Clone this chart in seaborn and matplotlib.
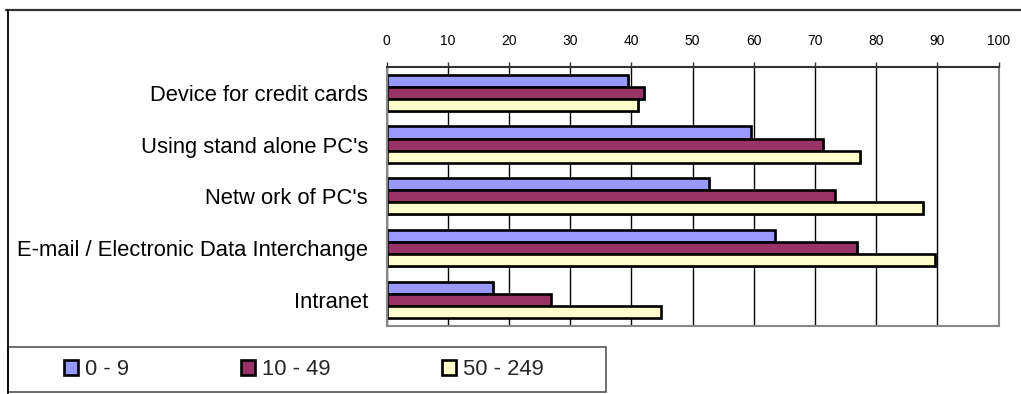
import matplotlib
matplotlib.use("Agg")
import matplotlib.pyplot as plt
import matplotlib.patheffects as pe
from matplotlib import font_manager
from matplotlib.lines import Line2D
from matplotlib.patches import Rectangle
import numpy as np
import pandas as pd
import seaborn as sns

# ---- data -------------------------------------------------------------
categories = [
    "Device for credit cards",
    "Using stand alone PC's",
    "Netw ork of PC's",
    "E-mail / Electronic Data Interchange",
    "Intranet",
]
size_classes = ["0 - 9", "10 - 49", "50 - 249"]
values_0_9 = [39.5, 59.5, 52.7, 63.5, 17.3]
values_10_49 = [42.1, 71.3, 73.2, 76.9, 26.8]
values_50_249 = [41.1, 77.4, 87.7, 89.6, 44.8]
x_ticks = [0, 10, 20, 30, 40, 50, 60, 70, 80, 90, 100]

colors = {"0 - 9": "#9999FF", "10 - 49": "#993366", "50 - 249": "#FFFFCC"}

df = pd.DataFrame({
    "category": categories * 3,
    "size": np.repeat(size_classes, len(categories)),
    "value": values_0_9 + values_10_49 + values_50_249,
})

# ---- style ------------------------------------------------------------
sns.set_style("white")
plt.rcParams["font.family"] = ["Liberation Sans", "DejaVu Sans"]


def pick_font(names):
    for n in names:
        try:
            font_manager.findfont(n, fallback_to_default=False)
            return n
        except Exception:
            continue
    return "Liberation Sans"


tick_font = pick_font(["Liberation Sans Narrow", "DejaVu Sans Condensed", "Liberation Sans"])

W, H = 1021, 394
fig = plt.figure(figsize=(W / 100, H / 100), dpi=100)
ax = fig.add_axes([386.7 / W, 1 - 325.5 / H, (998.5 - 386.7) / W, (325.5 - 67) / H])

sns.barplot(
    data=df, x="value", y="category", hue="size", order=categories,
    hue_order=size_classes, palette=colors, orient="y", width=0.7, gap=0,
    edgecolor="black", linewidth=1.9, saturation=1, ax=ax,
)

shadow = [pe.SimplePatchShadow(offset=(1.2, -1.2), shadow_rgbFace="#808080", alpha=0.7), pe.Normal()]
for p in ax.patches:
    p.set_path_effects(shadow)

leg = ax.get_legend()
handles = leg.legend_handles
labels = [t.get_text() for t in leg.get_texts()]
leg.remove()

# ---- axes -------------------------------------------------------------
ax.set_xlim(0, 100)
ax.set_xticks(x_ticks)
ax.xaxis.tick_top()
ax.tick_params(axis="x", which="major", length=3.5, width=1, color="#333333",
               pad=10, labelsize=10, labelcolor="black")
for t in ax.get_xticklabels():
    t.set_fontfamily(tick_font)
ax.tick_params(axis="y", length=0, pad=13.5, labelsize=15.8, labelcolor="black")
ax.set_xlabel("")
ax.set_ylabel("")

ax.set_axisbelow(True)
ax.grid(axis="x", color="black", linewidth=1)
ax.grid(axis="y", visible=False)

ax.spines["top"].set_color("#333333")
ax.spines["top"].set_linewidth(1.5)
for s in ("left", "bottom", "right"):
    ax.spines[s].set_color("#888888")
    ax.spines[s].set_linewidth(1.5)

# ---- outer frame ------------------------------------------------------
fig.add_artist(Line2D([6 / W, 1.0], [1 - 10 / H, 1 - 10 / H], color="#333333",
                      linewidth=1.6, transform=fig.transFigure))
fig.add_artist(Line2D([7.5 / W, 7.5 / W], [1 - 10 / H, 0.0], color="black",
                      linewidth=1.3, transform=fig.transFigure))

# ---- legend -----------------------------------------------------------
box_x0, box_x1 = 8 / W, 606 / W
box_y0, box_y1 = 1 - 391.7 / H, 1 - 347.3 / H
fig.add_artist(Rectangle((box_x0, box_y0), box_x1 - box_x0, box_y1 - box_y0,
                         transform=fig.transFigure, facecolor="white",
                         edgecolor="#555555", linewidth=1.2))
fig.legend(
    handles, labels, ncol=3, loc="center",
    bbox_to_anchor=((box_x0 + box_x1) / 2 - 3 / W, (box_y0 + box_y1) / 2),
    frameon=False, fontsize=15.8, handlelength=0.65, handleheight=0.65,
    handletextpad=0.3, columnspacing=5.1, borderaxespad=0,
)

fig.savefig("out.png", dpi=100, facecolor="white")
